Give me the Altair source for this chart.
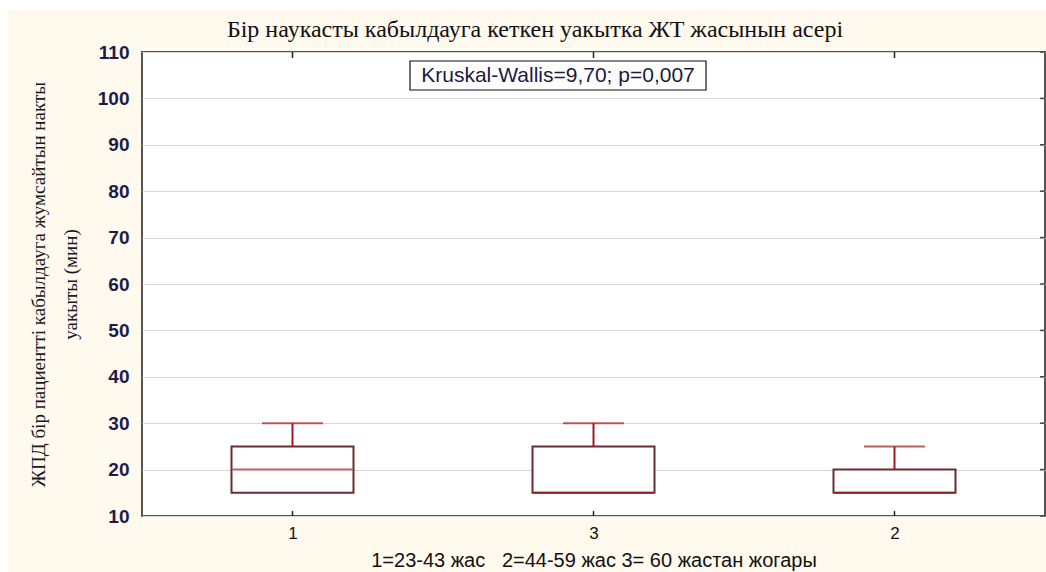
import altair as alt
import pandas as pd

# Age groups in the order they appear along the x axis
groups = ["1", "3", "2"]
whisker_low = [15, 15, 15]
q1 = [15, 15, 15]
median = [20, 15, 15]
q3 = [25, 25, 20]
whisker_high = [30, 30, 25]

y_ticks = list(range(10, 111, 10))

title_text = "Бір наукасты кабылдауга кеткен уакытка ЖТ жасынын асері"
y_title = ["ЖПД бір пациентті кабылдауга жумсайтын накты", "уакыты (мин)"]
x_title = "1=23-43 жас \u00a0\u00a02=44-59 жас 3= 60 жастан жогары"
stat_text = "Kruskal-Wallis=9,70; p=0,007"

W, H = 903, 464
BOX_EDGE = "#6a2c2e"
BOX_RED = "#a3191f"
CREAM = "#FFF9EE"

df = pd.DataFrame({
    "group": groups,
    "lo": whisker_low,
    "q1": q1,
    "med": median,
    "q3": q3,
    "hi": whisker_high,
})
ticks_df = pd.DataFrame({"v": y_ticks})

x_enc = alt.X(
    "group:N",
    sort=groups,
    scale=alt.Scale(type="point", padding=0.5),
    axis=alt.Axis(
        title=x_title,
        labelAngle=0,
        ticks=False,
        domain=False,
        grid=False,
        labelFont="Liberation Sans",
        labelFontSize=17,
        labelColor="#111111",
        labelPadding=9,
        titleFont="Liberation Sans",
        titleFontSize=20,
        titleFontWeight="normal",
        titleColor="#111111",
        titlePadding=9,
    ),
)
y_scale = alt.Scale(domain=[10, 110], nice=False, zero=False)
y_enc = alt.Y(
    "q1:Q",
    scale=y_scale,
    axis=alt.Axis(
        title=y_title,
        values=y_ticks,
        ticks=False,
        domain=False,
        grid=True,
        gridColor="#d6d6d6",
        gridWidth=1,
        labelFont="Liberation Sans",
        labelFontSize=19,
        labelFontWeight="bold",
        labelColor="#1c1c4a",
        labelPadding=13,
        titleFont="Liberation Serif",
        titleFontSize=19,
        titleFontWeight="normal",
        titleColor="#1a1a1a",
        titleAngle=270,
        titleAlign="center",
        titleBaseline="top",
        titleX=-113,
        titleY=232,
        titleLineHeight=32,
    ),
)

base = alt.Chart(df)

# white strips outside the cream frame
strip_left = base.mark_rect(color="white").encode(
    x=alt.value(-142), x2=alt.value(-134), y=alt.value(-52), y2=alt.value(H + 60)
)
strip_top = base.mark_rect(color="white").encode(
    x=alt.value(-142), x2=alt.value(W + 10), y=alt.value(-52), y2=alt.value(-42)
)

lower_whisker = base.mark_rule(color=BOX_RED, strokeWidth=2).encode(
    x=x_enc, y=alt.Y("lo:Q", scale=y_scale), y2="q1:Q"
)
upper_whisker = base.mark_rule(color=BOX_RED, strokeWidth=2).encode(
    x=x_enc, y=alt.Y("q3:Q", scale=y_scale), y2="hi:Q"
)
cap = base.mark_tick(color=BOX_RED, size=61, thickness=2).encode(
    x=x_enc, y=alt.Y("hi:Q", scale=y_scale)
)
box = base.mark_bar(size=122, fill="white", stroke=BOX_EDGE, strokeWidth=2).encode(
    x=x_enc, y=y_enc, y2="q3:Q"
)
med = base.mark_tick(color=BOX_RED, size=120, thickness=2).encode(
    x=x_enc, y=alt.Y("med:Q", scale=y_scale)
)

# small inward tick marks on the frame
top_ticks = base.mark_rule(color="#222222", strokeWidth=1.5).encode(
    x=x_enc, y=alt.value(0), y2=alt.value(6)
)
bottom_ticks = base.mark_rule(color="#222222", strokeWidth=1.5).encode(
    x=x_enc, y=alt.value(H), y2=alt.value(H - 5)
)
right_ticks = alt.Chart(ticks_df).mark_rule(color="#444444", strokeWidth=1.5).encode(
    y=alt.Y("v:Q", scale=y_scale), x=alt.value(W - 5), x2=alt.value(W)
)

one_row = alt.datum.group == "1"

stat_box = base.mark_rect(fill="white", stroke="#111111", strokeWidth=1.2).encode(
    x=alt.value(268), x2=alt.value(564), y=alt.value(9), y2=alt.value(38)
).transform_filter(one_row)
stat_label = base.mark_text(
    text=stat_text, font="Liberation Sans", fontSize=21, color="#1a1a40",
    align="center", baseline="middle",
).encode(x=alt.value(416), y=alt.value(24)).transform_filter(one_row)

# chart heading, centred above the frame
heading = base.mark_text(
    text=title_text, font="Liberation Serif", fontSize=24, color="#111111",
    align="center", baseline="middle",
).encode(x=alt.value(393), y=alt.value(-22)).transform_filter(one_row)

chart = alt.layer(
    box, strip_left, strip_top, lower_whisker, upper_whisker, cap, med,
    top_ticks, bottom_ticks, right_ticks, stat_box, stat_label, heading,
).properties(
    width=W,
    height=H,
    autosize=alt.AutoSizeParams(type="none"),
    padding={"left": 142, "top": 52, "right": 1, "bottom": 56},
    background=CREAM,
).configure_view(
    fill="white", stroke="#555555", strokeWidth=2
)

chart.save("out.html", embed_options={"renderer": "svg", "actions": False})
